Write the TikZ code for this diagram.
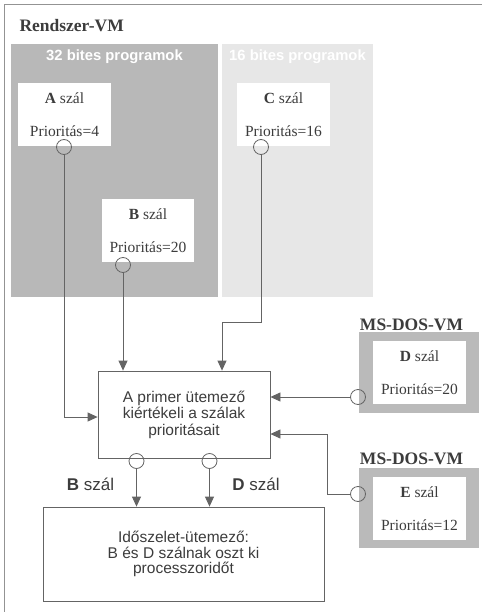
\documentclass[tikz,border=0pt]{standalone}
\usepackage{fontspec}
\setmainfont{Liberation Serif}
\setsansfont{Liberation Sans}
\usetikzlibrary{arrows.meta}
\definecolor{panelA}{RGB}{184,184,184}
\definecolor{panelB}{RGB}{231,231,231}
\definecolor{dosgray}{RGB}{186,186,186}
\definecolor{ink}{RGB}{60,60,60}
\definecolor{wire}{RGB}{100,100,100}

\newcommand{\szal}[2]{\textbf{#1} szál\\[15pt]Prioritás=#2}

\begin{document}
\begin{tikzpicture}[x=1pt,y=-1pt,
    thread/.style={fill=white,inner sep=0pt,minimum width=93pt,minimum height=63pt,
      align=center,text=ink,font=\fontsize{15.5}{18}\selectfont},
    port/.style={circle,draw=wire,line width=0.8pt,minimum size=15pt,inner sep=0pt},
    wirebox/.style={draw=wire,line width=0.8pt,inner sep=0pt,align=center,text=ink},
    conn/.style={draw=wire,line width=0.8pt,-{Triangle[length=10pt,width=9pt]}},
    vmlabel/.style={text=ink,font=\bfseries\fontsize{17.5}{20}\selectfont},
    panellabel/.style={text=white,font=\sffamily\bfseries\fontsize{14.8}{17}\selectfont}]
        \useasboundingbox (0,0) rectangle (482,612);
        \draw[wire!70, line width=0.8pt] (4,612) -- (4,4) -- (482,4);

        \node[vmlabel, anchor=west] (rendszer) at (16,26) {Rendszer-VM};

        % program panels
        \fill[panelA] (11,44) rectangle (218,297);
        \fill[panelB] (222,44) rectangle (373,297);
        \node[panellabel] (lab32) at (114.5,57) {32 bites programok};
        \node[panellabel] (lab16) at (297.5,57) {16 bites programok};

        \node[thread] (a) at (64.5,114.5) {\szal{A}{4}};
        \node[thread, minimum width=92pt] (b) at (148,230.5) {\szal{B}{20}};
        \node[thread] (c) at (283.5,115) {\szal{C}{16}};

        \node[port] (ca) at (64,147) {};
        \node[port] (cb) at (123,265) {};
        \node[port] (cc) at (261,147) {};

        % MS-DOS virtual machines
        \node[vmlabel] (dosd) at (411.5,325) {MS-DOS-VM};
        \fill[dosgray] (359,332) rectangle (479,413);
        \node[thread] (d) at (419.5,372.5) {\szal{D}{20}};
        \node[vmlabel] (dose) at (411.5,459) {MS-DOS-VM};
        \fill[dosgray] (359,468) rectangle (479,548);
        \node[thread] (e) at (419.5,508.5) {\szal{E}{12}};

        \node[port] (cd) at (358,397) {};
        \node[port] (ce) at (358,494) {};

        \node[wirebox, minimum width=172pt, minimum height=87pt,
              font=\sffamily\fontsize{15.5}{16.5}\selectfont] (prim) at (184,414.5)
              {A primer ütemező\\kiértékeli a szálak\\prioritásait};
        \node[wirebox, minimum width=281pt, minimum height=94pt,
              font=\sffamily\fontsize{15.5}{15.5}\selectfont] (idosz) at (183.5,554)
              {Időszelet-ütemező:\\B és D szálnak oszt ki\\processzoridőt};

        \draw[conn] (ca.south) |- (prim.west |- 0,417);
        \draw[conn] (cb.south) -- (cb.south |- prim.north);
        \draw[conn] (cc.south) |- (222,322) -- (prim.north -| 222,0);
        \draw[conn] (cd.west) -- (prim.east |- cd.west);
        \draw[conn] (ce.west) -| (327,434) -- (prim.east |- 0,434);

        \node[port] (pb) at (136.5,461) {};
        \node[port] (pd) at (209.5,461) {};
        \draw[conn] (pb.south) -- (pb.south |- idosz.north);
        \draw[conn] (pd.south) -- (pd.south |- idosz.north);

        \node[text=ink, font=\sffamily\fontsize{17}{20}\selectfont] (lb) at (90.5,484) {\textbf{B} szál};
        \node[text=ink, font=\sffamily\fontsize{17}{20}\selectfont] (ld) at (256,484) {\textbf{D} szál};
      \end{tikzpicture}
\end{document}
